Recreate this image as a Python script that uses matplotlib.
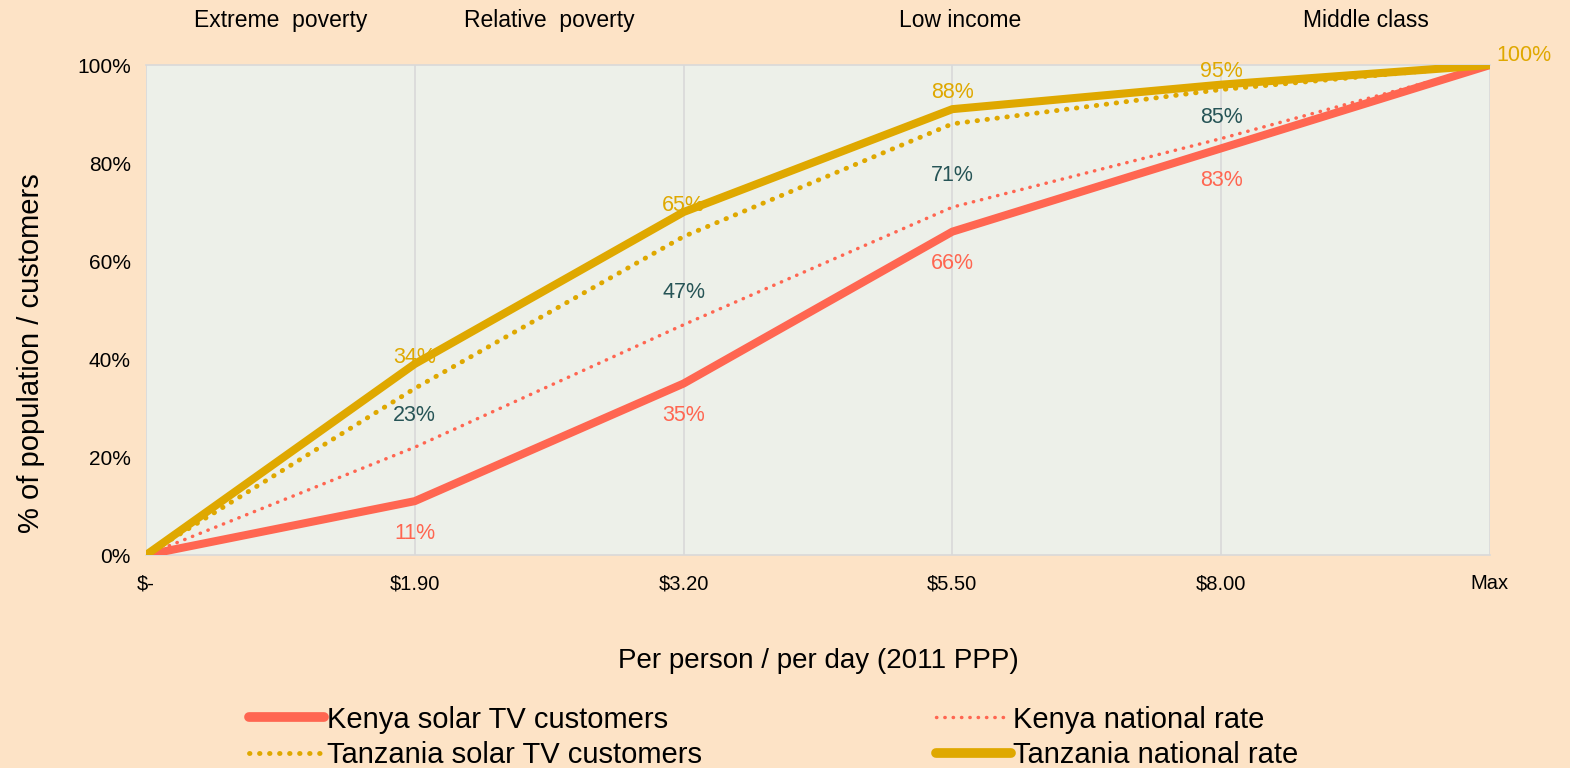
import matplotlib.pyplot as plt
from matplotlib.ticker import PercentFormatter

# data
x_labels = ["$-", "$1.90", "$3.20", "$5.50", "$8.00", "Max"]
bands = ["Extreme  poverty", "Relative  poverty", "Low income", "Middle class"]
band_pos = [0.5, 1.5, 3.03, 4.54]

kenya_solar = [0, 11, 35, 66, 83, 100]
kenya_national = [0, 22, 47, 71, 85, 100]
tanzania_solar = [0, 34, 65, 88, 95, 100]
tanzania_national = [0, 39, 70, 91, 96, 100]

kenya_solar_lbl = [None, 11, 35, 66, 83, None]
kenya_national_lbl = [None, 23, 47, 71, 85, None]
tanzania_solar_lbl = [None, 34, 65, 88, 95, 100]

BG = "#FDE3C6"
PLOT_BG = "#EDF0E9"
CORAL = "#FF6651"
GOLD = "#DFA800"
TEAL = "#265456"
GRID = "#D9D9D9"

plt.rcParams["font.family"] = ["Liberation Sans", "DejaVu Sans"]

fig = plt.figure(figsize=(15.7, 7.68), dpi=100, facecolor=BG)
ax = fig.add_axes([0.093, 0.2773, 0.856, 0.638])
ax.set_facecolor(PLOT_BG)

xs = list(range(len(x_labels)))

ax.plot(xs, kenya_solar, color=CORAL, lw=5.8, solid_capstyle="butt",
        label="Kenya solar TV customers", zorder=3)
ax.plot(xs, tanzania_solar, color=GOLD, lw=3.5, linestyle=(0, (0.1, 1.96)),
        dash_capstyle="round", label="Tanzania solar TV customers", zorder=3)
ax.plot(xs, kenya_national, color=CORAL, lw=2.5, linestyle=(0, (0.1, 2.3)),
        dash_capstyle="round", label="Kenya national rate", zorder=3)
ax.plot(xs, tanzania_national, color=GOLD, lw=5.8, solid_capstyle="butt",
        label="Tanzania national rate", zorder=4)


def put_labels(values, labels, color, dy, last_dy=None):
    for i, (v, t) in enumerate(zip(values, labels)):
        if t is None:
            continue
        off = dy
        dx = 0
        if i == len(values) - 2 and last_dy is not None:
            off = last_dy
        if i == len(values) - 1:
            dx, off = 34, 10
        ax.annotate(f"{t}%", (i, v), xytext=(dx, off), textcoords="offset pixels",
                    ha="center", va="center", color=color, fontsize=15.5, zorder=5)


put_labels(tanzania_solar, tanzania_solar_lbl, GOLD, 31, 18)
put_labels(kenya_national, kenya_national_lbl, TEAL, 32, 21)
put_labels(kenya_solar, kenya_solar_lbl, CORAL, -32)

ax.set_xlim(0, len(x_labels) - 1)
ax.set_ylim(0, 100)
ax.set_xticks(xs)
ax.set_xticklabels(x_labels, fontsize=14.5)
ax.set_yticks(range(0, 101, 20))
ax.yaxis.set_major_formatter(PercentFormatter(decimals=0))
ax.tick_params(axis="y", labelsize=15, length=0, pad=11)
ax.tick_params(axis="x", length=0, pad=14)
ax.grid(axis="x", color=GRID, lw=1.2, zorder=1)
ax.grid(axis="y", visible=False)
for side in ["left", "right"]:
    ax.spines[side].set_visible(False)
for side in ["top", "bottom"]:
    ax.spines[side].set_color(GRID)
    ax.spines[side].set_linewidth(1.2)

for b, p in zip(bands, band_pos):
    ax.text(p, 1.09, b, transform=ax.get_xaxis_transform(), ha="center",
            va="center", fontsize=16.5)

ax.set_ylabel("% of population / customers", fontsize=21)
ax.yaxis.set_label_coords(-0.075, 0.412)
ax.set_xlabel("Per person / per day (2011 PPP)", fontsize=20)
ax.xaxis.set_label_coords(0.5, -0.19)

h, l = ax.get_legend_handles_labels()
leg = fig.legend(h, l, ncol=2, loc="center", bbox_to_anchor=(0.493, 0.04),
                 frameon=False, fontsize=21, handlelength=2.57, handletextpad=0.1,
                 columnspacing=8.0, labelspacing=0.25, borderpad=0)
for lh in leg.get_lines():
    if lh.get_linestyle() == "-":
        lh.set_linewidth(7)
        lh.set_solid_capstyle("round")

fig.savefig("out.png", dpi=100, facecolor=BG)
